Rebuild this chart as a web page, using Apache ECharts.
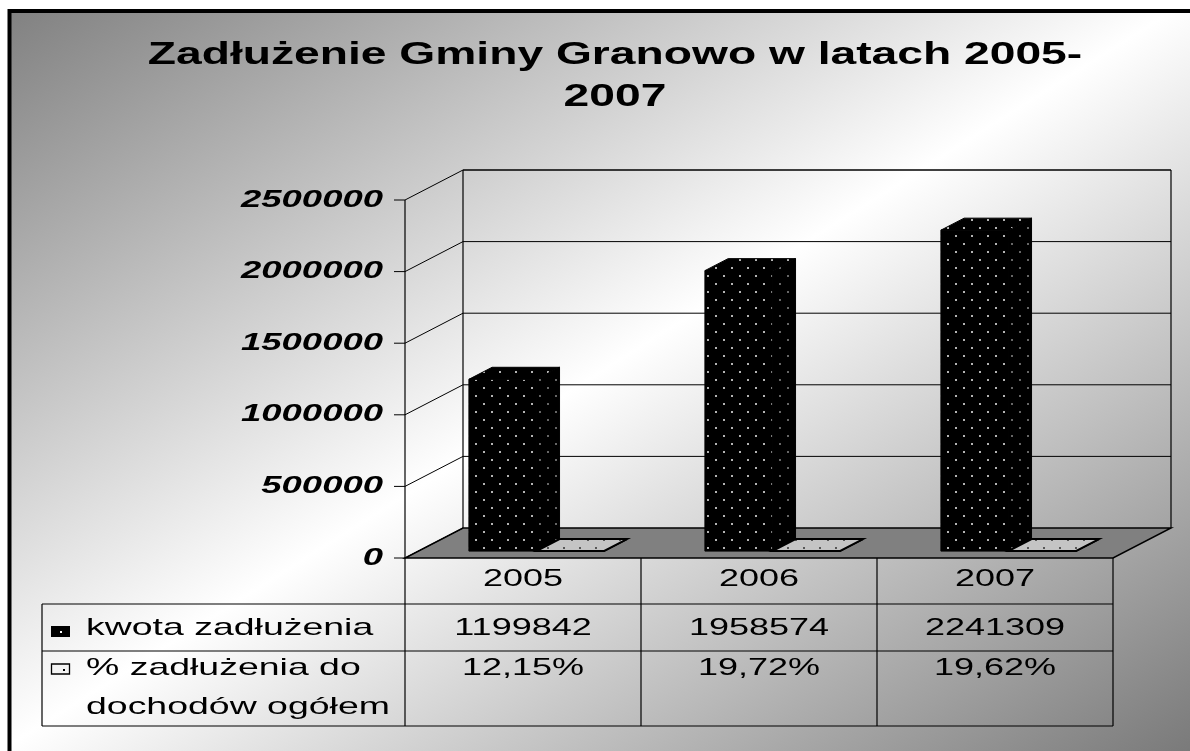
<!DOCTYPE html>
<html>
<head>
<meta charset="utf-8">
<script src="https://cdn.jsdelivr.net/npm/echarts@6/dist/echarts.min.js"></script>
<style>
  html, body { margin: 0; padding: 0; background: #fff; }
  #main { width: 1190px; height: 751px; }
</style>
</head>
<body>
<div id="main"></div>
<script>
// dane
var years = ['2005', '2006', '2007'];
var kwota = [1199842, 1958574, 2241309];
var procent = [12.15, 19.72, 19.62];
var yTicks = [0, 500000, 1000000, 1500000, 2000000, 2500000];
var rowNames = ['kwota zadłużenia', '% zadłużenia do', 'dochodów ogółem'];
var titleLines = ['Zadłużenie Gminy Granowo w latach 2005-', '2007'];

// wygląd 3D (przesunięcie głębi, położenie słupków w głębi)
var DX = 58, DY = -30;
var T1 = 0.23, T2 = 0.63;
var SX = 1.5; // tekst rozciągnięty w poziomie
var FONT = '"Liberation Sans", Arial, sans-serif';

// wiersze tabeli
var ROW_TOP = 604, ROW_MID = 651, ROW_BOT = 726, TABLE_LEFT = 42;

function dotPattern(bg, dot) {
  var c = document.createElement('canvas');
  c.width = 16; c.height = 16;
  var g = c.getContext('2d');
  g.fillStyle = bg;
  g.fillRect(0, 0, 16, 16);
  g.fillStyle = dot;
  [[4, 4], [12, 12]].forEach(function (p) {
    g.beginPath();
    g.arc(p[0], p[1], 1, 0, Math.PI * 2);
    g.fill();
  });
  return { image: c, repeat: 'repeat' };
}
var blackDots = dotPattern('#000', '#f0f0f0');
var sideDots = dotPattern('#000', '#8a8a8a');
var grayDots = dotPattern('#c4c4c4', '#333');

function txt(str, x, y, opt) {
  opt = opt || {};
  return {
    type: 'text', x: x, y: y, scaleX: opt.sx || SX, silent: true,
    style: {
      text: str, x: 0, y: 0, fill: '#000',
      font: (opt.italic ? 'italic ' : '') + (opt.bold ? 'bold ' : '') + (opt.size || 24) + 'px ' + FONT,
      align: opt.align || 'center', verticalAlign: 'middle'
    }
  };
}
function line(x1, y1, x2, y2, w) {
  return { type: 'line', silent: true, shape: { x1: x1, y1: y1, x2: x2, y2: y2 },
    style: { stroke: '#000', lineWidth: w || 1 } };
}

function pctLabel(v) {
  return v.toFixed(2).replace('.', ',') + '%';
}

// ściany, podłoga
function renderWalls(params, api) {
  var cs = params.coordSys;
  var x0 = cs.x, x1 = cs.x + cs.width;
  var yb = api.coord([0, 0])[1];
  var yt = api.coord([0, yTicks[yTicks.length - 1]])[1];
  return {
    type: 'group',
    children: [
      { type: 'polygon', silent: true,
        shape: { points: [[x0, yb], [x1, yb], [x1 + DX, yb + DY], [x0 + DX, yb + DY]] },
        style: { fill: '#808080', stroke: '#000', lineWidth: 1.5 } },
      line(x0 + DX, yt + DY, x0 + DX, yb + DY, 1.2),
      line(x1 + DX, yt + DY, x1 + DX, yb + DY, 1.2),
      line(x0, yt, x0, yb, 1.2)
    ]
  };
}

// linie siatki i opisy osi Y
function renderGrid(params, api) {
  var cs = params.coordSys;
  var x0 = cs.x, x1 = cs.x + cs.width;
  var v = api.value(1);
  var y = api.coord([0, v])[1];
  var ch = [
    line(x0, y, x0 + DX, y + DY, 1),
    line(x0 - 11, y, x0, y, 1),
    txt(String(v), x0 - 22, y, { bold: true, italic: true, size: 24, align: 'right', sx: 1.52 })
  ];
  if (v > 0) ch.push(line(x0 + DX, y + DY, x1 + DX, y + DY, v === yTicks[yTicks.length - 1] ? 1.5 : 1));
  return { type: 'group', children: ch };
}

function barBox(api, left, front, side, top, lw) {
  var i = api.value(0), v = api.value(1);
  var base = api.coord([i, 0]);
  var tp = api.coord([i, v]);
  var band = api.size([1, 0])[0];
  var bw = band / 3.5;
  var ox = DX * T1, oy = DY * T1;
  var ddx = DX * (T2 - T1), ddy = DY * (T2 - T1);
  var xl = left ? base[0] - bw + ox : base[0] + ox;
  var xr = xl + bw;
  var yb = base[1] + oy, yt = tp[1] + oy;
  var st = { stroke: '#000', lineWidth: lw };
  return {
    type: 'group',
    children: [
      { type: 'rect', silent: true, shape: { x: xl, y: yt, width: xr - xl, height: yb - yt },
        style: Object.assign({ fill: front }, st) },
      { type: 'polygon', silent: true,
        shape: { points: [[xr, yt], [xr + ddx, yt + ddy], [xr + ddx, yb + ddy], [xr, yb]] },
        style: Object.assign({ fill: side }, st) },
      { type: 'polygon', silent: true,
        shape: { points: [[xl, yt], [xr, yt], [xr + ddx, yt + ddy], [xl + ddx, yt + ddy]] },
        style: Object.assign({ fill: top }, st) }
    ]
  };
}

// tabela danych
function renderTable(params, api) {
  var i = api.value(0);
  var c = api.coord([i, 0]);
  var band = api.size([1, 0])[0];
  var l = c[0] - band / 2, r = c[0] + band / 2, yb = c[1];
  var ch = [
    line(l, yb, l, ROW_BOT, 1.2),
    line(l, ROW_TOP, r, ROW_TOP, 1.2),
    line(l, ROW_MID, r, ROW_MID, 1.2),
    line(l, ROW_BOT, r, ROW_BOT, 1.2),
    txt(years[i], c[0], yb + 21),
    txt(String(kwota[i]), c[0], ROW_TOP + 24),
    txt(pctLabel(procent[i]), c[0], ROW_MID + 17)
  ];
  if (i === years.length - 1) ch.push(line(r, yb, r, ROW_BOT, 1.2));
  if (i === 0) {
    ch.push(
      line(TABLE_LEFT, ROW_TOP, l, ROW_TOP, 1.2),
      line(TABLE_LEFT, ROW_MID, l, ROW_MID, 1.2),
      line(TABLE_LEFT, ROW_BOT, l, ROW_BOT, 1.2),
      line(TABLE_LEFT, ROW_TOP, TABLE_LEFT, ROW_BOT, 1.2),
      { type: 'rect', silent: true, shape: { x: 51, y: ROW_TOP + 22, width: 19, height: 11 },
        style: { fill: '#000' } },
      { type: 'rect', silent: true, shape: { x: 60, y: ROW_TOP + 27, width: 2, height: 2 },
        style: { fill: '#fff' } },
      { type: 'rect', silent: true, shape: { x: 51.5, y: ROW_MID + 13, width: 18, height: 10 },
        style: { fill: '#f4f4f4', stroke: '#000', lineWidth: 1.3 } },
      { type: 'rect', silent: true, shape: { x: 63, y: ROW_MID + 18, width: 2, height: 2 },
        style: { fill: '#000' } },
      txt(rowNames[0], 86, ROW_TOP + 24, { align: 'left', sx: 1.56 }),
      txt(rowNames[1], 86, ROW_MID + 17, { align: 'left', sx: 1.56 }),
      txt(rowNames[2], 86, ROW_MID + 56, { align: 'left', sx: 1.56 })
    );
  }
  return { type: 'group', children: ch };
}

var chart = echarts.init(document.getElementById('main'), null, { renderer: 'canvas' });
chart.setOption({
  backgroundColor: '#fff',
  animation: false,
  graphic: [
    { type: 'rect', z: -10, silent: true,
      shape: { x: 9.5, y: 11, width: 1200, height: 780 },
      style: {
        fill: { type: 'linear', x: 0, y: 0, x2: 678, y2: 1074, global: true,
          colorStops: [{ offset: 0, color: '#7e7e7e' }, { offset: 0.5, color: '#ffffff' }, { offset: 1, color: '#7a7a7a' }] },
        stroke: '#000', lineWidth: 4
      } },
    txt(titleLines[0], 615, 55, { bold: true, size: 31, sx: 1.49 }),
    txt(titleLines[1], 615, 97, { bold: true, size: 31, sx: 1.49 })
  ],
  grid: { left: 405, right: 77, top: 200, bottom: 193 },
  xAxis: { type: 'category', data: years, show: false },
  yAxis: { type: 'value', min: 0, max: 2500000, interval: 500000, show: false },
  series: [
    { type: 'custom', name: 'walls', clip: false, z: 1, silent: true,
      renderItem: renderWalls, data: [[0, 0]] },
    { type: 'custom', name: 'grid', clip: false, z: 2, silent: true,
      renderItem: renderGrid, data: yTicks.map(function (v) { return [0, v]; }) },
    { type: 'custom', name: rowNames[0], clip: false, z: 3, silent: true,
      renderItem: function (params, api) { return barBox(api, true, blackDots, sideDots, blackDots, 1); },
      data: kwota.map(function (v, i) { return [i, v]; }) },
    { type: 'custom', name: rowNames[1] + ' ' + rowNames[2], clip: false, z: 3, silent: true,
      renderItem: function (params, api) { return barBox(api, false, grayDots, grayDots, grayDots, 2); },
      data: procent.map(function (v, i) { return [i, v / 100]; }) },
    { type: 'custom', name: 'table', clip: false, z: 4, silent: true,
      renderItem: renderTable, data: years.map(function (y, i) { return [i, 0]; }) }
  ]
});
</script>
</body>
</html>
